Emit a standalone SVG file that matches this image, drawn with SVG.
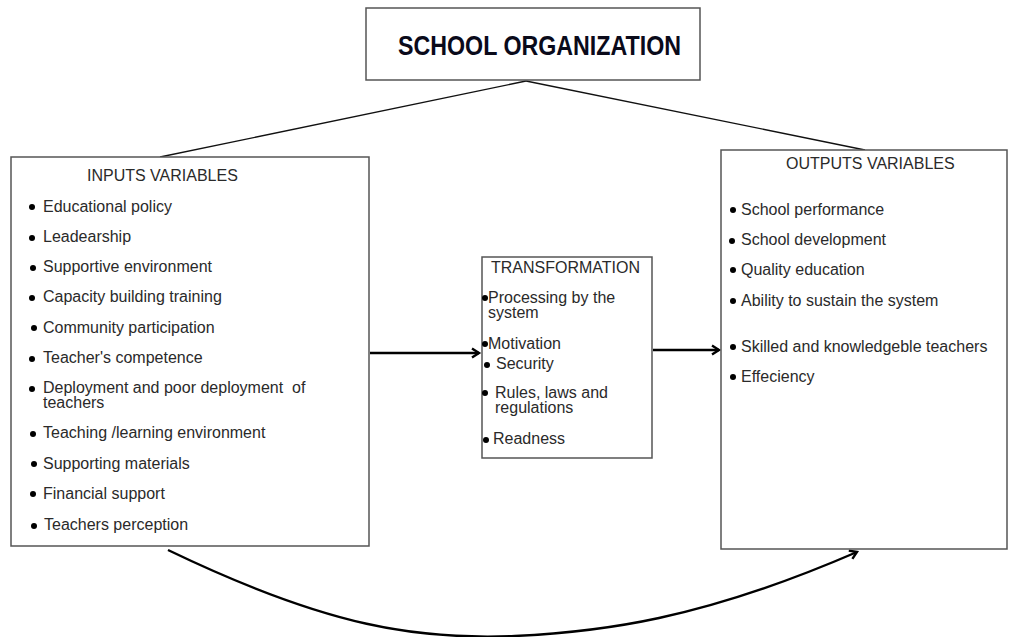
<svg xmlns="http://www.w3.org/2000/svg" width="1009" height="637" viewBox="0 0 1009 637">
<style>
.box{fill:#fff;stroke:#555;stroke-width:1.5}
.t{font-family:"Liberation Sans",Arial,sans-serif;font-size:16px;fill:#2a2a2a}
.b circle{fill:#000;r:3px}
.thin{fill:none;stroke:#111;stroke-width:1.3}
.arr{fill:none;stroke:#000;stroke-width:2.4}
.title{font-family:"Liberation Sans",Arial,sans-serif;font-weight:bold;font-size:27px;fill:#0a0a1a}
</style>
<defs>
<marker id="ah" markerWidth="12" markerHeight="12" refX="9" refY="6" orient="auto" markerUnits="userSpaceOnUse">
<polyline points="2,1.5 9,6 2,10.5" fill="none" stroke="#000" stroke-width="2.4"/>
</marker>
</defs>
<rect width="1009" height="637" fill="#fff"/>
<g id="connectors">
<line class="thin" x1="526" y1="81" x2="160" y2="157"/>
<line class="thin" x1="526" y1="81" x2="865" y2="150"/>
<line class="arr" x1="370" y1="353" x2="479" y2="353" marker-end="url(#ah)"/>
<line class="arr" x1="653" y1="350" x2="719" y2="350" marker-end="url(#ah)"/>
<path class="arr" d="M168,550 C330,628 420,640 515,636 C600,632 700,620 857,552" marker-end="url(#ah)"/>
</g>
<g id="school-organization">
<rect class="box" x="366" y="8" width="334" height="72"/>
<text class="title" x="398" y="55" textLength="283" lengthAdjust="spacingAndGlyphs">SCHOOL ORGANIZATION</text>
</g>
<g id="inputs">
<rect class="box" x="11" y="157" width="358" height="389"/>
<text class="t" x="87" y="181">INPUTS VARIABLES</text>
<g class="b">
<circle cx="32" cy="207" r="3"/><circle cx="32" cy="238" r="3"/><circle cx="33" cy="268" r="3"/>
<circle cx="32" cy="298" r="3"/><circle cx="34" cy="328" r="3"/><circle cx="32" cy="359" r="3"/>
<circle cx="32" cy="389" r="3"/><circle cx="33" cy="434" r="3"/><circle cx="34" cy="464" r="3"/>
<circle cx="33" cy="494" r="3"/><circle cx="34" cy="526" r="3"/>
</g>
<text class="t" x="43" y="212">Educational policy</text>
<text class="t" x="43" y="242">Leadearship</text>
<text class="t" x="43" y="272">Supportive environment</text>
<text class="t" x="43" y="302">Capacity building training</text>
<text class="t" x="43" y="333">Community participation</text>
<text class="t" x="43" y="363">Teacher's competence</text>
<text class="t" x="43" y="393" xml:space="preserve">Deployment and poor deployment  of</text>
<text class="t" x="43" y="408">teachers</text>
<text class="t" x="43" y="438">Teaching /learning environment</text>
<text class="t" x="43" y="469">Supporting materials</text>
<text class="t" x="43" y="499">Financial support</text>
<text class="t" x="44" y="530">Teachers perception</text>
</g>
<g id="transformation">
<rect class="box" x="482" y="257" width="170" height="201"/>
<text class="t" x="491" y="273">TRANSFORMATION</text>
<g class="b">
<circle cx="485" cy="298" r="3"/><circle cx="485" cy="344" r="3"/><circle cx="487" cy="365" r="3"/>
<circle cx="485" cy="393" r="3"/><circle cx="486" cy="440" r="3"/>
</g>
<text class="t" x="488" y="303">Processing by the</text>
<text class="t" x="488" y="318">system</text>
<text class="t" x="488" y="349">Motivation</text>
<text class="t" x="496" y="369">Security</text>
<text class="t" x="495" y="398">Rules, laws and</text>
<text class="t" x="495" y="413">regulations</text>
<text class="t" x="493" y="444">Readness</text>
</g>
<g id="outputs">
<rect class="box" x="721" y="150" width="286" height="399"/>
<text class="t" x="786" y="169">OUTPUTS VARIABLES</text>
<g class="b">
<circle cx="733" cy="210" r="3"/><circle cx="732" cy="241" r="3"/><circle cx="733" cy="270" r="3"/>
<circle cx="733" cy="301" r="3"/><circle cx="733" cy="347" r="3"/><circle cx="733" cy="377" r="3"/>
</g>
<text class="t" x="741" y="215">School performance</text>
<text class="t" x="741" y="245">School development</text>
<text class="t" x="741" y="275">Quality education</text>
<text class="t" x="741" y="306">Ability to sustain the system</text>
<text class="t" x="741" y="352">Skilled and knowledgeble teachers</text>
<text class="t" x="741" y="382">Effeciency</text>
</g>
</svg>
